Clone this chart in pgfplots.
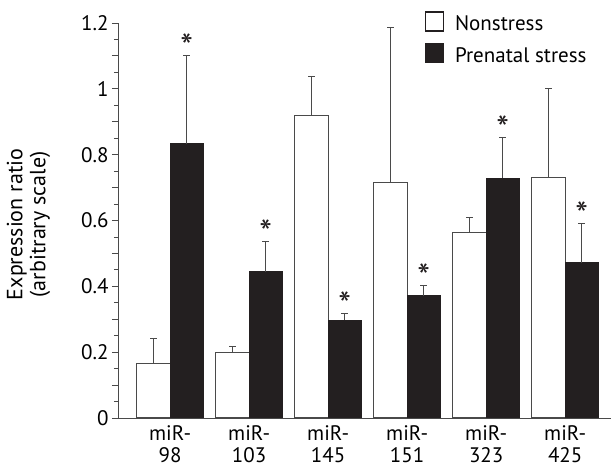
\documentclass[border=0pt]{standalone}
\usepackage{fontspec}
\setmainfont{PT Sans}
\usepackage{pgfplots}
\pgfplotsset{compat=1.18}
\usetikzlibrary{calc}
\definecolor{barblack}{HTML}{231F20}
\definecolor{edgegray}{HTML}{4A4A4A}
\begin{document}
\begin{tikzpicture}
\begin{axis}[
  scale only axis, width=493pt, height=395pt,
  xmin=-0.66, xmax=5.58, ymin=0, ymax=1.2,
  clip=false,
  axis x line*=bottom, axis y line*=left,
  axis line style={draw=edgegray, line width=0.9pt},
  xtick={0,1,2,3,4,5},
  xticklabels={{miR-\\98},{miR-\\103},{miR-\\145},{miR-\\151},{miR-\\323},{miR-\\425}},
  xticklabel style={align=center, font=\fontsize{21}{22.5}\selectfont, inner sep=1pt},
  xtick style={draw=none},
  ytick={0,0.2,0.4,0.6,0.8,1,1.2},
  ytick pos=left,
  minor y tick num=3,
  tick align=outside,
  major tick length=6pt, minor tick length=4pt,
  ytick style={draw=edgegray, line width=0.9pt},
  minor tick style={draw=edgegray, line width=0.9pt},
  extra y ticks={0.1,0.3,0.5,0.7,0.9,1.1},
  extra y tick labels={},
  extra y tick style={major tick length=6pt, tick style={draw=edgegray, line width=0.9pt}},
  yticklabel style={font=\fontsize{21}{23}\selectfont},
  /pgf/number format/assume math mode=true,
  ylabel={Expression ratio\\(arbitrary scale)},
  ylabel style={align=center, font=\fontsize{22}{23}\selectfont, at={(ticklabel cs:0.49)}},
  ylabel shift=12pt,
  legend style={draw=none, fill=none, at={(0.616,1.035)}, anchor=north west,
    font=\fontsize{21}{23}\selectfont, row sep=9pt,
    nodes={inner sep=2pt},
    /tikz/every odd column/.append style={column sep=9pt}},
  legend cell align=left,
]
\addplot[ybar, bar width=0.42, bar shift=0pt, fill=white, draw=edgegray, line width=1pt,
  legend image code/.code={\draw[fill=white, draw=barblack, line width=1.2pt] (0pt,-7pt) rectangle (18pt,12pt);},
  error bars/.cd, y dir=plus, y explicit,
  error bar style={edgegray, line width=1pt},
  error mark options={rotate=90, edgegray, line width=1pt, mark size=3.5pt}]
  coordinates {
  (-0.21,0.167) +- (0,0.073)
  (0.79,0.199) +- (0,0.019)
  (1.79,0.918) +- (0,0.120)
  (2.79,0.716) +- (0,0.471)
  (3.79,0.564) +- (0,0.046)
  (4.79,0.731) +- (0,0.270)
  };
\addlegendentry{Nonstress}
\addplot[ybar, bar width=0.42, bar shift=0pt, fill=barblack, draw=barblack, line width=1pt,
  legend image code/.code={\draw[fill=barblack, draw=barblack, line width=1.2pt] (0pt,-7pt) rectangle (18pt,12pt);},
  error bars/.cd, y dir=plus, y explicit,
  error bar style={edgegray, line width=1pt},
  error mark options={rotate=90, edgegray, line width=1pt, mark size=3.5pt}]
  coordinates {
  (0.21,0.833) +- (0,0.267)
  (1.21,0.444) +- (0,0.092)
  (2.21,0.297) +- (0,0.020)
  (3.21,0.372) +- (0,0.030)
  (4.21,0.729) +- (0,0.123)
  (5.21,0.472) +- (0,0.118)
  };
\addlegendentry{Prenatal stress}
\addplot[forget plot, draw=none, mark=none,
  nodes near coords={*},
  every node near coord/.style={anchor=base, yshift=-4pt, font=\fontsize{36}{36}\selectfont, text=barblack}]
  coordinates {(0.21,1.10) (1.21,0.536) (2.21,0.317) (3.21,0.402) (4.21,0.852) (5.21,0.590)};
\coordinate (O) at (rel axis cs:0,0);
\coordinate (T) at (rel axis cs:1,1);
\end{axis}
\pgfresetboundingbox
\path ($(O)+(-118pt,-52pt)$) rectangle ($(T)+(0pt,23pt)$);
\end{tikzpicture}
\end{document}
